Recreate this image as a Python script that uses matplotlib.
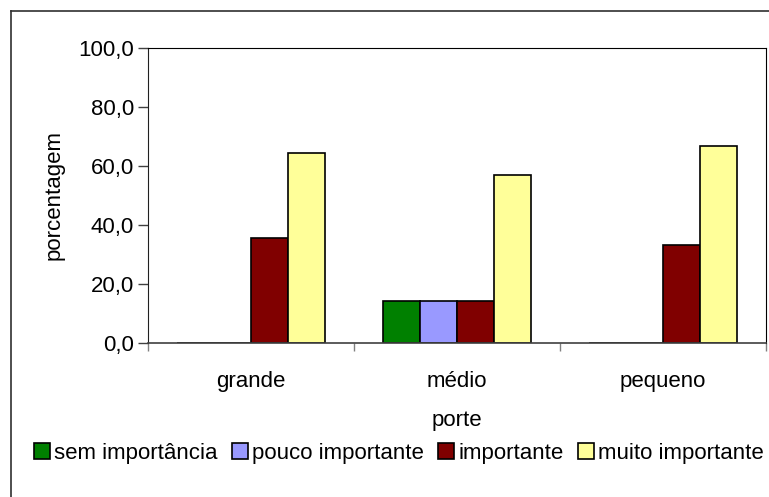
import numpy as np
import matplotlib.pyplot as plt
from matplotlib.lines import Line2D

plt.rcParams['font.family'] = ['Liberation Sans', 'DejaVu Sans']

portes = ["grande", "médio", "pequeno"]
series = ["sem importância", "pouco importante", "importante", "muito importante"]
sem_importancia = [0.0, 14.3, 0.0]
pouco_importante = [0.0, 14.3, 0.0]
importante = [35.7, 14.3, 33.3]
muito_importante = [64.3, 57.1, 66.7]
cores = ["#008000", "#9999ff", "#800000", "#ffff99"]

valores = [sem_importancia, pouco_importante, importante, muito_importante]
fs = 16

fig = plt.figure(figsize=(7.69, 4.97), dpi=100)
ax = fig.add_axes([148/769, 1 - 343/497, (766 - 148)/769, (343 - 48)/497])

x = np.arange(len(portes))
w = 0.18
for i, (nome, v, c) in enumerate(zip(series, valores, cores)):
    ax.bar(x + (i - 1.5) * w, v, w, color=c, edgecolor="black", linewidth=1.2,
           label=nome, zorder=2)

ax.set_xlim(-0.5, 2.5)
ax.set_ylim(0, 100)
ax.set_yticks(np.arange(0, 101, 20))
ax.set_yticklabels([f"{v:.1f}".replace(".", ",") for v in np.arange(0, 101, 20)],
                   fontsize=fs)
ax.tick_params(axis="y", length=7, width=1, color="#404040", pad=3)

# category boundaries get the tick marks, centres get the labels
ax.set_xticks([-0.5, 0.5, 1.5, 2.5])
ax.set_xticklabels([])
ax.tick_params(axis="x", which="major", length=6, width=1, color="#808080")
ax.set_xticks(x, minor=True)
ax.set_xticklabels(portes, minor=True, fontsize=fs)
ax.tick_params(axis="x", which="minor", length=0, pad=20)

ax.set_xlabel("porte", fontsize=fs, labelpad=13)
ax.set_ylabel("porcentagem", fontsize=fs, labelpad=10)

for s in ["top", "right"]:
    ax.spines[s].set_linewidth(0.8)
    ax.spines[s].set_color("black")
ax.spines["left"].set_color("#202020")
ax.spines["bottom"].set_color("#404040")
ax.spines["bottom"].set_linewidth(1.2)
ax.spines["bottom"].set_zorder(3)

fig.legend(loc="center", bbox_to_anchor=(399/769, 1 - 453/497), ncol=4,
           frameon=False, fontsize=fs, handlelength=0.7, handleheight=0.7,
           handletextpad=0.2, columnspacing=0.65, borderaxespad=0)

# outer chart frame, only left and top edges show
fig.add_artist(Line2D([11/769, 11/769], [0, 1 - 11/497], color="#303030",
                      linewidth=1.2, transform=fig.transFigure))
fig.add_artist(Line2D([11/769, 1], [1 - 11/497, 1 - 11/497], color="#303030",
                      linewidth=1.2, transform=fig.transFigure))

fig.savefig("out.png", dpi=100)
